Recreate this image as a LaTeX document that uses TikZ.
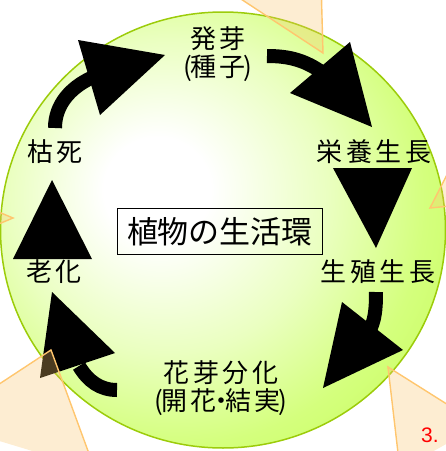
\documentclass[tikz,border=0pt]{standalone}
\usepackage{fontspec}
\newfontfamily\jplabel[LetterSpace=14]{Noto Sans CJK JP}
\newfontfamily\jptitle{Noto Sans CJK JP}
\newfontfamily\numfont{Liberation Sans}
\definecolor{edgegreen}{RGB}{198,252,88}
\definecolor{midgreen}{RGB}{212,255,125}
\definecolor{palegreen}{RGB}{234,255,192}
\definecolor{rimgreen}{RGB}{156,204,10}
\definecolor{calloutfill}{RGB}{250,196,107}
\definecolor{calloutline}{RGB}{255,198,110}
\pgfdeclareradialshading{lifeglow}{\pgfpoint{-8bp}{5bp}}{color(0bp)=(white); color(6bp)=(white); color(18bp)=(palegreen); color(28bp)=(midgreen); color(38bp)=(edgegreen); color(80bp)=(edgegreen)}
\begin{document}
\begin{tikzpicture}[x=1pt,y=-1pt,
  lbl/.style={font=\jplabel\fontsize{26}{28}\selectfont, inner sep=0pt, align=center},
  titlebox/.style={font=\jptitle\fontsize{31}{33}\selectfont, draw=black, line width=1.8pt, minimum width=205pt, minimum height=46pt, inner sep=0pt},
  shaft/.style={draw=black, line width=14pt, line cap=butt},
  headtri/.style={fill=black},
  callout/.style={fill=calloutfill, fill opacity=0.3, draw=calloutline, line width=1.4pt, line join=miter}]
\useasboundingbox (0,0) rectangle (446,451);
\clip (0,0) rectangle (446,451);
% background disc
\shade[shading=lifeglow, draw=rimgreen, line width=1.5pt] (223,230) ellipse [x radius=222.5, y radius=218];

% labels
\node[lbl] (germ) at (218,54) {発芽\\(\kern-2pt種子\kern-2pt)};
\node[lbl] (veg) at (374,152) {栄養生長};
\node[lbl] (rep) at (378,272) {生殖生長};
\node[lbl] (flow) at (221,388) {花芽分化\\(\kern-2pt開花\kern-9pt・\kern-9pt結実\kern-2pt)};
\node[lbl] (sen) at (54,272) {老化};
\node[lbl] (dead) at (55,152) {枯死};
\node[titlebox] (title) at (220,231.5) {植物の生活環};

% arrow 1: germ -> veg
\coordinate (a1s) at (267,56);
\coordinate (a1e) at (323,73);
\draw[shaft] (a1s) .. controls (291,56) and (306,61) .. (a1e);
\fill[headtri] (290,93) -- (350,42) -- (372,127) -- cycle;
% arrow 2: veg -> rep
\fill[headtri] (333,168) -- (412,168) -- (376,248) -- cycle;
% arrow 3: rep -> flow
\coordinate (a3s) at (376,292);
\coordinate (a3e) at (369,332);
\draw[shaft] (a3s) .. controls (376,310) and (375,320) .. (a3e);
\fill[headtri] (342,302) -- (403,350) -- (323,388) -- cycle;
% arrow 4: flow -> sen
\coordinate (a4s) at (117,390);
\coordinate (a4e) at (79,366);
\draw[shaft] (a4s) .. controls (100,390) and (88,381) .. (a4e);
\fill[headtri] (115,353) -- (40,378) -- (52,292) -- cycle;
% arrow 5: sen -> dead
\fill[headtri] (13,259) -- (92,259) -- (52,180) -- cycle;
% arrow 6: dead -> germ
\coordinate (a6s) at (55,128);
\coordinate (a6e) at (91,78);
\draw[shaft] (a6s) .. controls (55,105) and (70,88) .. (a6e);
\fill[headtri] (78,40) -- (165,55) -- (100,115) -- cycle;

% callouts
\path[callout] (212,-20) -- (323,53) -- (321,-20);
\path[callout] (480,110) -- (430,208) -- (480,203);
\path[callout] (-30,200) -- (13,218) -- (-30,236);
\path[callout] (-60,423) -- (51,350) -- (95,470);
\path[callout] (480,425) -- (388,367) -- (400,470);

\node[font=\numfont\fontsize{21}{23}\selectfont, text=red, anchor=west, inner sep=0pt] (num) at (421,435) {3.};
\end{tikzpicture}
\end{document}
